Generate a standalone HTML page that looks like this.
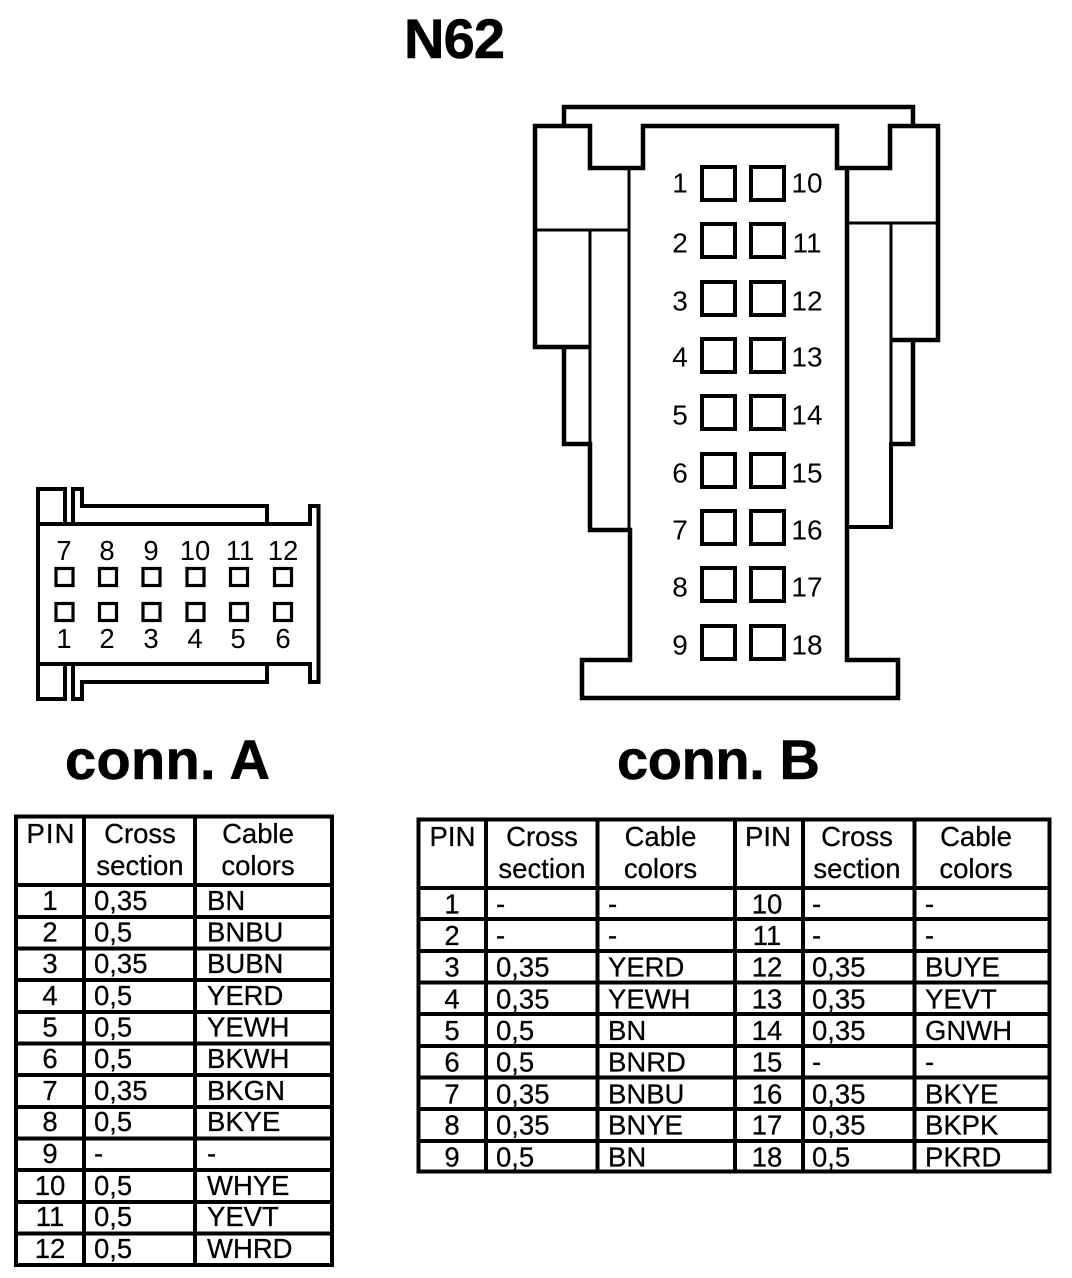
<!DOCTYPE html>
<html>
<head>
<meta charset="utf-8">
<style>
html,body{margin:0;padding:0;background:#fff}
svg{display:block}
text{font-family:"Liberation Sans",Arial,sans-serif;fill:#000}
.t{font-size:56px;font-weight:bold;stroke:#000;stroke-width:.6px}
.p{font-size:28px;text-anchor:middle}
.a{font-size:27.5px;text-anchor:middle}
.c{font-size:27.5px;stroke:#000;stroke-width:.25px}
.m{text-anchor:middle}
</style>
</head>
<body>
<svg xmlns="http://www.w3.org/2000/svg" width="1072" height="1278" viewBox="0 0 1072 1278">
<rect width="1072" height="1278" fill="#fff"/>
<text class="t" x="404" y="58" textLength="101" lengthAdjust="spacing">N62</text>
<text class="t" x="65" y="779" textLength="205" lengthAdjust="spacing">conn. A</text>
<text class="t" x="617" y="779" textLength="203" lengthAdjust="spacing">conn. B</text>

<!-- Connector B -->
<g fill="none" stroke="#000" stroke-width="4.5">
<path d="M564 126V107H913V126"/>
<path d="M590 347H535V126H590V168H643V126H837V168H890V126H938V340H890"/>
<path d="M564 347V444H590V530H630V660H582V698H898V660H847V168"/>
<path d="M913 340V444H890"/>
</g>
<g fill="none" stroke="#000" stroke-width="3">
<path d="M535 230H629"/>
<path d="M629 168V530"/>
<path d="M590 230V444"/>
<path d="M847 223H938"/>
<path d="M891 223V444"/>
<path d="M891 442V527H847" stroke-width="4"/>
</g>
<g fill="#fff" stroke="#000" stroke-width="4">
<rect x="702" y="167" width="33" height="33"/><rect x="751" y="167" width="33" height="33"/>
<rect x="702" y="224" width="33" height="33"/><rect x="751" y="224" width="33" height="33"/>
<rect x="702" y="282" width="33" height="33"/><rect x="751" y="282" width="33" height="33"/>
<rect x="702" y="339" width="33" height="33"/><rect x="751" y="339" width="33" height="33"/>
<rect x="702" y="396" width="33" height="33"/><rect x="751" y="396" width="33" height="33"/>
<rect x="702" y="454" width="33" height="33"/><rect x="751" y="454" width="33" height="33"/>
<rect x="702" y="511" width="33" height="33"/><rect x="751" y="511" width="33" height="33"/>
<rect x="702" y="568" width="33" height="33"/><rect x="751" y="568" width="33" height="33"/>
<rect x="702" y="626" width="33" height="33"/><rect x="751" y="626" width="33" height="33"/>
</g>
<g transform="translate(0,-0.700)">
<text class="p" x="680" y="193">1</text><text class="p" x="807" y="193">10</text>
<text class="p" x="680" y="253">2</text><text class="p" x="807" y="253">11</text>
<text class="p" x="680" y="311">3</text><text class="p" x="807" y="311">12</text>
<text class="p" x="680" y="367">4</text><text class="p" x="807" y="367">13</text>
<text class="p" x="680" y="425">5</text><text class="p" x="807" y="425">14</text>
<text class="p" x="680" y="483">6</text><text class="p" x="807" y="483">15</text>
<text class="p" x="680" y="540">7</text><text class="p" x="807" y="540">16</text>
<text class="p" x="680" y="597">8</text><text class="p" x="807" y="597">17</text>
<text class="p" x="680" y="655">9</text><text class="p" x="807" y="655">18</text>
</g>

<!-- Connector A -->
<g fill="none" stroke="#000" stroke-width="4">
<path d="M38 664V489H65V524"/>
<path d="M38 664V699H65V664"/>
<path d="M73 524V489H82V506H267V524"/>
<path d="M73 664V699H82V682H267V664"/>
<path d="M38 524H310V506H318.500V682H310V664H38"/>
</g>
<g fill="#fff" stroke="#000" stroke-width="3.2">
<rect x="56" y="568.500" width="17" height="17"/><rect x="99.500" y="568.500" width="17" height="17"/><rect x="143" y="568.500" width="17" height="17"/><rect x="187" y="568.500" width="17" height="17"/><rect x="230.500" y="568.500" width="17" height="17"/><rect x="274.500" y="568.500" width="17" height="17"/>
<rect x="56" y="603.500" width="17" height="17"/><rect x="99.500" y="603.500" width="17" height="17"/><rect x="143" y="603.500" width="17" height="17"/><rect x="187" y="603.500" width="17" height="17"/><rect x="230.500" y="603.500" width="17" height="17"/><rect x="274.500" y="603.500" width="17" height="17"/>
</g>
<text class="a" x="64" y="560">7</text><text class="a" x="107" y="560">8</text><text class="a" x="151" y="560">9</text><text class="a" x="195" y="560">10</text><text class="a" x="240" y="560">11</text><text class="a" x="283" y="560">12</text>
<text class="a" x="64" y="648">1</text><text class="a" x="107" y="648">2</text><text class="a" x="151" y="648">3</text><text class="a" x="195" y="648">4</text><text class="a" x="238" y="648">5</text><text class="a" x="283" y="648">6</text>

<!-- Table A -->
<g fill="none" stroke="#000" stroke-width="4">
<rect x="16" y="816.500" width="316" height="448.500"/>
<path d="M84 816V1265M195 816V1265"/>
<path d="M16 885H332M16 917H332M16 948.500H332M16 980H332M16 1012H332M16 1043.500H332M16 1075H332M16 1107H332M16 1138.500H332M16 1170H332M16 1202H332M16 1233.500H332"/>
</g>
<g>
<text class="c m" x="50.500" y="843" textLength="48" lengthAdjust="spacing">PIN</text><text class="c m" x="140" y="843">Cross</text><text class="c m" x="140" y="875">section</text><text class="c m" x="258" y="843">Cable</text><text class="c m" x="258" y="875">colors</text>
</g>
<g transform="translate(0,-1)">
<text class="c m" x="50" y="911">1</text><text class="c" x="94" y="911">0,35</text><text class="c" x="207" y="911">BN</text>
<text class="c m" x="50" y="942.600">2</text><text class="c" x="94" y="942.600">0,5</text><text class="c" x="207" y="942.600">BNBU</text>
<text class="c m" x="50" y="974">3</text><text class="c" x="94" y="974">0,35</text><text class="c" x="207" y="974">BUBN</text>
<text class="c m" x="50" y="1006">4</text><text class="c" x="94" y="1006">0,5</text><text class="c" x="207" y="1006">YERD</text>
<text class="c m" x="50" y="1037.500">5</text><text class="c" x="94" y="1037.500">0,5</text><text class="c" x="207" y="1037.500">YEWH</text>
<text class="c m" x="50" y="1069">6</text><text class="c" x="94" y="1069">0,5</text><text class="c" x="207" y="1069">BKWH</text>
<text class="c m" x="50" y="1101">7</text><text class="c" x="94" y="1101">0,35</text><text class="c" x="207" y="1101">BKGN</text>
<text class="c m" x="50" y="1132">8</text><text class="c" x="94" y="1132">0,5</text><text class="c" x="207" y="1132">BKYE</text>
<text class="c m" x="50" y="1164">9</text><text class="c" x="94" y="1164">-</text><text class="c" x="207" y="1164">-</text>
<text class="c m" x="50" y="1196">10</text><text class="c" x="94" y="1196">0,5</text><text class="c" x="207" y="1196">WHYE</text>
<text class="c m" x="50" y="1227">11</text><text class="c" x="94" y="1227">0,5</text><text class="c" x="207" y="1227">YEVT</text>
<text class="c m" x="50" y="1259">12</text><text class="c" x="94" y="1259">0,5</text><text class="c" x="207" y="1259">WHRD</text>
</g>

<!-- Table B -->
<g fill="none" stroke="#000" stroke-width="4">
<rect x="418.500" y="819.500" width="631" height="352"/>
<path d="M486 819V1171M597.500 819V1171M735 819V1171M803 819V1171M914.500 819V1171"/>
<path d="M418 888H1050M418 919H1050M418 951H1050M418 982.500H1050M418 1014H1050M418 1046H1050M418 1077.500H1050M418 1109H1050M418 1141H1050"/>
</g>
<g>
<text class="c m" x="452.500" y="846" textLength="46" lengthAdjust="spacing">PIN</text><text class="c m" x="542" y="846">Cross</text><text class="c m" x="542" y="878">section</text><text class="c m" x="660.500" y="846">Cable</text><text class="c m" x="660.500" y="878">colors</text>
<text class="c m" x="768" y="846" textLength="46" lengthAdjust="spacing">PIN</text><text class="c m" x="857" y="846">Cross</text><text class="c m" x="857" y="878">section</text><text class="c m" x="976" y="846">Cable</text><text class="c m" x="976" y="878">colors</text>
</g>
<g transform="translate(0,-1.500)">
<text class="c m" x="452" y="915">1</text><text class="c" x="496" y="915">-</text><text class="c" x="608" y="915">-</text><text class="c m" x="767" y="915">10</text><text class="c" x="812" y="915">-</text><text class="c" x="925" y="915">-</text>
<text class="c m" x="452" y="946.600">2</text><text class="c" x="496" y="946.600">-</text><text class="c" x="608" y="946.600">-</text><text class="c m" x="767" y="946.600">11</text><text class="c" x="812" y="946.600">-</text><text class="c" x="925" y="946.600">-</text>
<text class="c m" x="452" y="978">3</text><text class="c" x="496" y="978">0,35</text><text class="c" x="608" y="978">YERD</text><text class="c m" x="767" y="978">12</text><text class="c" x="812" y="978">0,35</text><text class="c" x="925" y="978">BUYE</text>
<text class="c m" x="452" y="1010">4</text><text class="c" x="496" y="1010">0,35</text><text class="c" x="608" y="1010">YEWH</text><text class="c m" x="767" y="1010">13</text><text class="c" x="812" y="1010">0,35</text><text class="c" x="925" y="1010">YEVT</text>
<text class="c m" x="452" y="1041.500">5</text><text class="c" x="496" y="1041.500">0,5</text><text class="c" x="608" y="1041.500">BN</text><text class="c m" x="767" y="1041.500">14</text><text class="c" x="812" y="1041.500">0,35</text><text class="c" x="925" y="1041.500">GNWH</text>
<text class="c m" x="452" y="1073">6</text><text class="c" x="496" y="1073">0,5</text><text class="c" x="608" y="1073">BNRD</text><text class="c m" x="767" y="1073">15</text><text class="c" x="812" y="1073">-</text><text class="c" x="925" y="1073">-</text>
<text class="c m" x="452" y="1105">7</text><text class="c" x="496" y="1105">0,35</text><text class="c" x="608" y="1105">BNBU</text><text class="c m" x="767" y="1105">16</text><text class="c" x="812" y="1105">0,35</text><text class="c" x="925" y="1105">BKYE</text>
<text class="c m" x="452" y="1136">8</text><text class="c" x="496" y="1136">0,35</text><text class="c" x="608" y="1136">BNYE</text><text class="c m" x="767" y="1136">17</text><text class="c" x="812" y="1136">0,35</text><text class="c" x="925" y="1136">BKPK</text>
<text class="c m" x="452" y="1168">9</text><text class="c" x="496" y="1168">0,5</text><text class="c" x="608" y="1168">BN</text><text class="c m" x="767" y="1168">18</text><text class="c" x="812" y="1168">0,5</text><text class="c" x="925" y="1168">PKRD</text>
</g>
</svg>
</body>
</html>
